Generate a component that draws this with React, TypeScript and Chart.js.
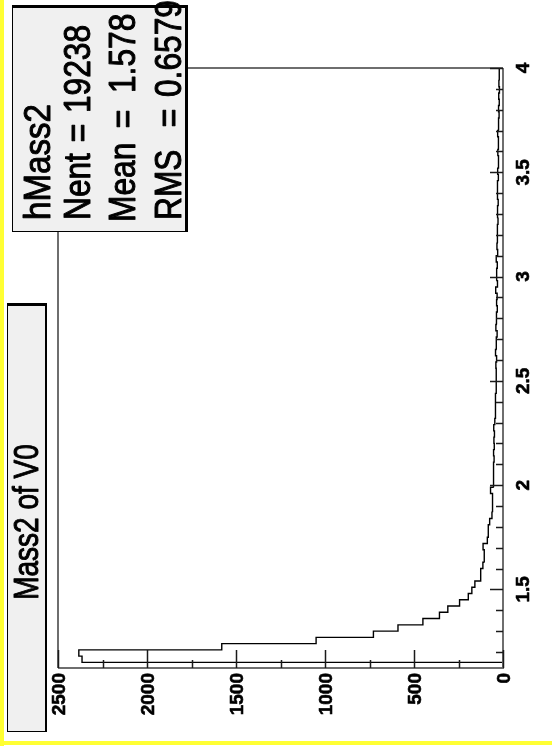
import React, { useEffect, useRef } from "react";
import { Chart, registerables } from "chart.js";

Chart.register(...registerables);

// ---- data ----
const HIST_NAME = "hMass2";
const TITLE = "Mass2 of V0";
const BIN_START = 1.15;
const BIN_WIDTH = 0.03;
const binCounts = [
  2365, 2383, 1580, 1050, 728, 590, 450, 357, 310, 244,
  195, 175, 158, 128, 124, 113, 104, 106, 112, 88,
  84, 82, 75, 62, 58, 61, 57, 70, 52, 55,
  51, 54, 50, 53, 49, 51, 48, 52, 46, 44,
  42, 43, 41, 38, 39, 37, 38, 40, 36, 42,
  35, 39, 33, 40, 34, 38, 32, 36, 33, 41,
  31, 37, 35, 32, 38, 30, 34, 29, 33, 31,
  28, 32, 30, 27, 31, 29, 33, 26, 30, 28,
  24, 29, 27, 25, 30, 23, 26, 22, 25, 21,
  24, 20, 23, 19, 22,
];
const countTickLabels = [0, 500, 1000, 1500, 2000, 2500];
const massTickLabels = [1.5, 2, 2.5, 3, 3.5, 4];
const COUNT_MIN = 0;
const COUNT_MAX = 2500;
const MASS_MIN = 1.123;
const MASS_MAX = 4.0;
const statNames = ["Nent", "Mean", "RMS"];
const statValues = ["19238", "1.578", "0.6579"];

function buildOutline() {
  const pts: { x: number; y: number }[] = [{ x: 0, y: BIN_START }];
  binCounts.forEach((c, i) => {
    const lo = BIN_START + i * BIN_WIDTH;
    pts.push({ x: c, y: lo }, { x: c, y: lo + BIN_WIDTH });
  });
  pts.push({ x: 0, y: BIN_START + binCounts.length * BIN_WIDTH });
  return pts;
}

function rotText(
  ctx: CanvasRenderingContext2D,
  text: string,
  x: number,
  y: number,
  font: string,
  align: CanvasTextAlign,
  baseline: CanvasTextBaseline,
  sx = 1,
  weight = 0
) {
  ctx.save();
  ctx.translate(x, y);
  ctx.rotate(-Math.PI / 2);
  ctx.scale(sx, 1);
  ctx.font = font;
  ctx.textAlign = align;
  ctx.textBaseline = baseline;
  ctx.fillStyle = "#000";
  ctx.fillText(text, 0, 0);
  if (weight > 0) {
    ctx.strokeStyle = "#000";
    ctx.lineWidth = weight;
    ctx.lineJoin = "round";
    ctx.strokeText(text, 0, 0);
  }
  ctx.restore();
}

const rootPlugin = {
  id: "rootDecor",
  beforeDraw(chart: any) {
    const ctx = chart.ctx as CanvasRenderingContext2D;
    ctx.save();
    ctx.fillStyle = "#fff";
    ctx.fillRect(0, 0, chart.width, chart.height);
    ctx.restore();
  },
  afterDraw(chart: any) {
    const ctx = chart.ctx as CanvasRenderingContext2D;
    const xs = chart.scales.x;
    const ys = chart.scales.y;
    const { left, right, top, bottom } = chart.chartArea;
    ctx.save();

    // frame
    ctx.strokeStyle = "#6e6e6e";
    ctx.lineWidth = 2;
    ctx.beginPath();
    ctx.moveTo(left, bottom);
    ctx.lineTo(left, top);
    ctx.lineTo(right, top);
    ctx.stroke();
    ctx.beginPath();
    ctx.moveTo(left, bottom);
    ctx.lineTo(right, bottom);
    ctx.lineTo(right, top);
    ctx.stroke();

    // count axis ticks (bottom, pointing up)
    ctx.strokeStyle = "#1a1a1a";
    ctx.lineWidth = 1.5;
    for (let v = COUNT_MIN; v <= COUNT_MAX + 1e-6; v += 250) {
      const px = Math.round(xs.getPixelForValue(v)) + 0.5;
      const major = countTickLabels.includes(v);
      ctx.beginPath();
      ctx.moveTo(px, bottom);
      ctx.lineTo(px, bottom - (major ? 18 : 8));
      ctx.stroke();
    }
    // mass axis ticks (right, pointing left)
    for (let i = 0; ; i++) {
      const m = Math.round((1.2 + i * 0.1) * 10) / 10;
      if (m > MASS_MAX + 1e-6) break;
      const py = Math.round(ys.getPixelForValue(m)) + 0.5;
      const major = massTickLabels.includes(m);
      ctx.beginPath();
      ctx.moveTo(right, py);
      ctx.lineTo(right - (major ? 13 : 7), py);
      ctx.stroke();
    }

    // tick labels
    const tickFont = "bold 19px 'Liberation Sans', Arial, sans-serif";
    countTickLabels.forEach((v) => {
      const px = xs.getPixelForValue(v) + 1.5;
      rotText(ctx, String(v), px, bottom + 5, tickFont, "right", "middle", 1, 0.6);
    });
    massTickLabels.forEach((m) => {
      const py = ys.getPixelForValue(m);
      rotText(ctx, String(m), 529, py, tickFont, "center", "alphabetic", 1, 0.6);
    });

    // title box
    ctx.fillStyle = "#f0f0f0";
    ctx.fillRect(7, 305, 39, 427);
    ctx.strokeStyle = "#000";
    ctx.lineWidth = 1;
    ctx.strokeRect(7.5, 305.5, 38, 426);
    ctx.fillStyle = "#000";
    ctx.fillRect(7, 303, 40, 3);
    ctx.fillRect(45, 303, 2, 429);
    rotText(ctx, TITLE, 38, 522, "35px 'Liberation Sans', Arial, sans-serif", "center", "alphabetic", 0.8, 1);

    // stats box
    ctx.fillStyle = "#f0f0f0";
    ctx.fillRect(12, 7, 175, 225);
    ctx.strokeStyle = "#000";
    ctx.lineWidth = 1;
    ctx.strokeRect(12.5, 7.5, 174, 224);
    ctx.fillStyle = "#000";
    ctx.fillRect(12, 5, 176, 3);
    ctx.fillRect(185, 5, 3, 227);
    const sf = "36px 'Liberation Sans', Arial, sans-serif";
    rotText(ctx, HIST_NAME, 50, 220, sf, "left", "alphabetic", 0.92, 1);
    const baselines = [90, 135, 181];
    const nameStart = [220, 222, 220];
    const eqCenter = [133, 119, 118];
    const valStart = [113, 93, 97];
    statNames.forEach((n, i) => {
      rotText(ctx, n, baselines[i], nameStart[i], sf, "left", "alphabetic", 0.88, 1);
      rotText(ctx, "=", baselines[i], eqCenter[i], sf, "center", "alphabetic", 0.88, 1);
      rotText(ctx, statValues[i], baselines[i], valStart[i], sf, "left", "alphabetic", 0.88, 1);
    });

    // yellow canvas border (left and bottom)
    ctx.fillStyle = "#ffff33";
    ctx.fillRect(0, 0, 4, chart.height);
    ctx.fillRect(0, 741, chart.width, 4);
    ctx.restore();
  },
};

export default function App() {
  const ref = useRef<HTMLCanvasElement | null>(null);
  useEffect(() => {
    if (!ref.current) return;
    const chart = new Chart(ref.current, {
      type: "scatter",
      data: {
        datasets: [
          {
            data: buildOutline(),
            showLine: true,
            borderColor: "#000",
            borderWidth: 1.4,
            pointRadius: 0,
            fill: false,
            tension: 0,
          },
        ],
      },
      options: {
        animation: false,
        responsive: false,
        maintainAspectRatio: false,
        events: [],
        layout: { padding: { left: 58, top: 68, right: 49, bottom: 78 } },
        plugins: { legend: { display: false }, tooltip: { enabled: false } },
        scales: {
          x: { type: "linear", reverse: true, min: COUNT_MIN, max: COUNT_MAX, display: false },
          y: { type: "linear", min: MASS_MIN, max: MASS_MAX, display: false },
        },
      },
      plugins: [rootPlugin],
    } as any);
    return () => chart.destroy();
  }, []);
  return (
    <div style={{ position: "fixed", left: 0, top: 0, width: 552, height: 746, background: "#fff" }}>
      <canvas ref={ref} width={552} height={746} style={{ display: "block", width: 552, height: 746 }} />
    </div>
  );
}
